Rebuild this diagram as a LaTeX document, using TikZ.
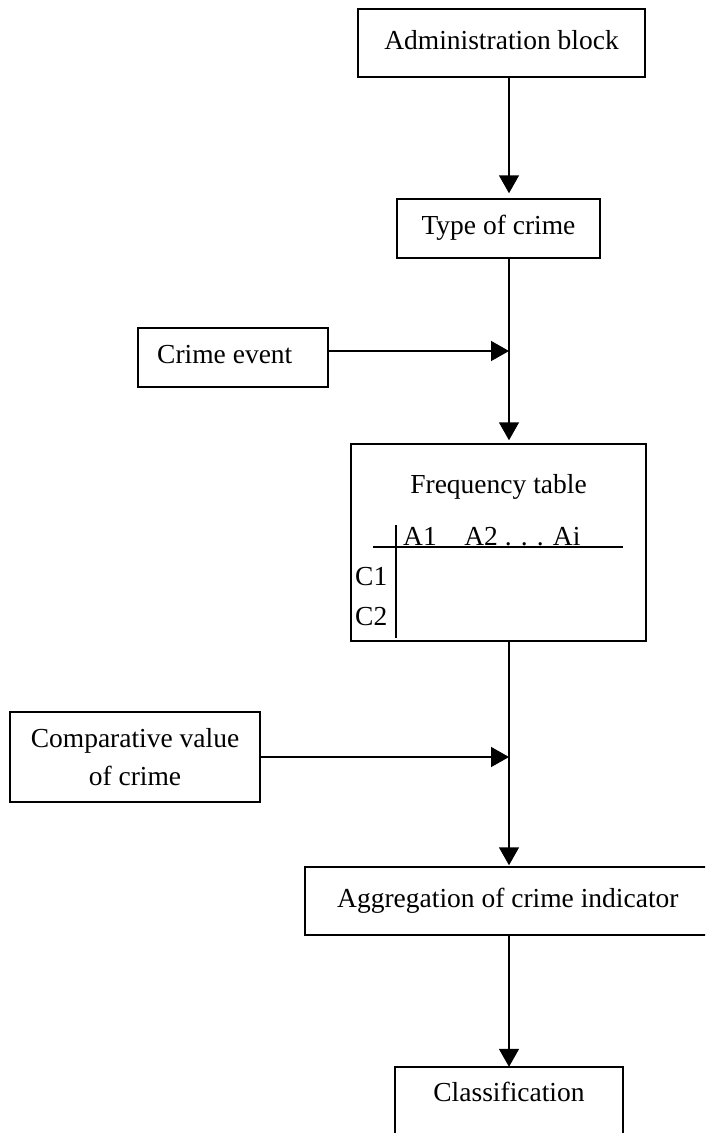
\documentclass[tikz,border=0pt]{standalone}
\usepackage{fontspec}
\setmainfont{Liberation Serif}
\usetikzlibrary{arrows.meta}
\begin{document}
\begin{tikzpicture}[x=1pt,y=-1pt,
  every node/.style={font=\fontsize{27.5}{38}\selectfont},
  box/.style={draw, line width=1.5pt, inner sep=0pt, align=center},
  oneline/.style={text height=18.8pt, text depth=6pt},
  flow/.style={line width=1.5pt, -{Triangle[length=18pt,width=20pt]}},
  plain/.style={line width=1.5pt},
  label/.style={inner sep=0pt}]
\useasboundingbox (0,0) rectangle (705,1133);
\clip (0,0) rectangle (705,1133);
\coordinate (spine) at (509,0);
% boxes
\node[box, oneline, minimum width=287pt, minimum height=68pt] (admin) at (501.5,43) {Administration block};
\node[box, oneline, minimum width=203pt, minimum height=59pt] (type) at (498.5,228.5) {Type of crime};
\node[box, minimum width=190pt, minimum height=59pt] (event) at (233,357.5) {};
\node[label, oneline, anchor=west] (eventtext) at (157,357.5) {Crime event};
\node[box, minimum width=295pt, minimum height=197pt] (freq) at (498.5,542.5) {};
\node[label, anchor=base] (ftitle) at (498.5,493) {Frequency table};
\node[label, anchor=base west] (fhead) at (403,545) {A1\quad A2 . . . Ai};
\node[label, anchor=west] (fc1) at (355,577) {C1};
\node[label, anchor=west] (fc2) at (355,617) {C2};
\coordinate (hl) at (373,547); \coordinate (hr) at (623,547);
\coordinate (vt) at (396,525); \coordinate (vb) at (396,638);
\draw[plain] (hl) -- (hr);
\draw[plain] (vt) -- (vb);
\node[box, minimum width=250pt, minimum height=90pt] (comp) at (135,757) {Comparative value\\of crime};
\node[box, minimum width=444pt, minimum height=68pt] (agg) at (527,901) {};
\node[label, oneline, anchor=west] (aggtext) at (337,901) {Aggregation of crime indicator};
\node[label, oneline, minimum width=228pt, minimum height=56pt] (class) at (509,1095) {Classification};
\draw[plain] (class.north west) ++(0,80) -- (class.north west) -- (class.north east) -- ++(0,80);
% connectors
\coordinate (j1) at (509,351);
\coordinate (j2) at (509,757);
\draw[flow, shorten >=5pt] (admin.south -| spine) -- (type.north -| spine);
\draw[flow, shorten >=3pt] (type.south -| spine) -- (freq.north -| spine);
\draw[flow] (event.east |- j1) -- (j1);
\draw[flow, shorten >=1pt] (freq.south -| spine) -- (agg.north -| spine);
\draw[flow] (comp.east) -- (j2);
\draw[flow] (agg.south -| spine) -- (class.north);
\end{tikzpicture}
\end{document}
